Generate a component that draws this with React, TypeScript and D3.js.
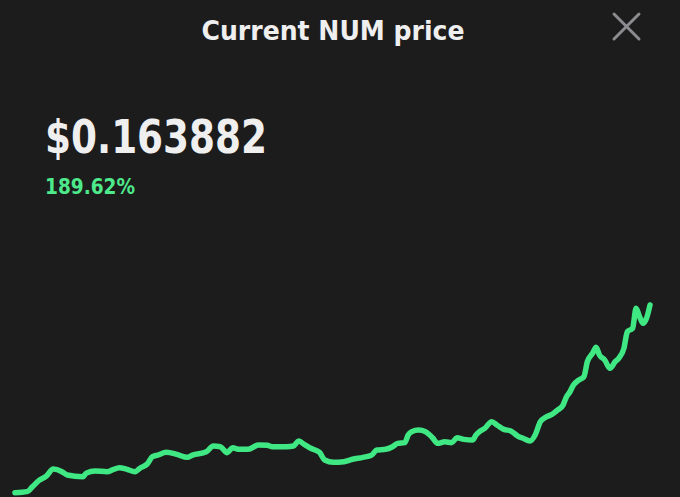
import React from 'react';
import * as d3 from 'd3';

// day index over one year, price in USD
const days = [0, 7, 10, 14, 18, 22, 27, 30, 39, 41, 46, 53, 56, 60, 64, 69, 72, 76, 79, 82,
  87, 93, 99, 102, 110, 114, 118, 122, 125, 129, 134, 140, 145, 148, 156, 160, 163, 166, 170, 175,
  178, 183, 189, 194, 200, 205, 208, 213, 217, 220, 224, 226, 228, 232, 236, 239, 240, 243, 247, 251,
  254, 258, 263, 265, 267, 270, 274, 277, 281, 285, 289, 292, 296, 299, 302, 305, 309, 312, 315, 317,
  319, 321, 324, 327, 329, 332, 334, 336, 339, 342, 345, 347, 350, 352, 355, 357, 359, 361, 363, 365];

const prices = [0.0566, 0.0572, 0.0600, 0.0638, 0.0661, 0.0701, 0.0686, 0.0667, 0.0657, 0.0678,
  0.0690, 0.0686, 0.0696, 0.0709, 0.0701, 0.0686, 0.0707, 0.0730, 0.0772, 0.0781,
  0.0797, 0.0785, 0.0768, 0.0781, 0.0800, 0.0833, 0.0829, 0.0795, 0.0823, 0.0814,
  0.0814, 0.0839, 0.0837, 0.0829, 0.0829, 0.0833, 0.0861, 0.0844, 0.0820, 0.0797,
  0.0753, 0.0740, 0.0743, 0.0757, 0.0768, 0.0781, 0.0810, 0.0814, 0.0829, 0.0848,
  0.0852, 0.0896, 0.0915, 0.0924, 0.0915, 0.0890, 0.0880, 0.0848, 0.0857, 0.0852,
  0.0880, 0.0871, 0.0867, 0.0896, 0.0915, 0.0934, 0.0972, 0.0953, 0.0928, 0.0919,
  0.0890, 0.0877, 0.0862, 0.0896, 0.0972, 0.0997, 0.1016, 0.1039, 0.1067, 0.1115,
  0.1143, 0.1182, 0.1210, 0.1229, 0.1315, 0.1363, 0.1397, 0.1353, 0.1324, 0.1277,
  0.1315, 0.1334, 0.1391, 0.1486, 0.1506, 0.1620, 0.1572, 0.1534, 0.1563, 0.1639];

const title = 'Current NUM price';
const currentPrice = '$0.163882';
const change = '189.62%';

const W = 680;
const H = 497;

const App = () => {
  const data = days.map((d, i) => ({ d, v: prices[i] }));

  const x = d3.scaleLinear().domain([0, 365]).range([15, 650]);
  const y = d3.scaleLinear()
    .domain([d3.min(prices) as number, d3.max(prices) as number])
    .range([492.7, 305]);

  const line = d3.line<{ d: number; v: number }>()
    .x(p => x(p.d))
    .y(p => y(p.v))
    .curve(d3.curveMonotoneX);

  const font = '"DejaVu Sans Condensed", "DejaVu Sans", sans-serif';

  return (
    <div style={{ position: 'absolute', left: 0, top: 0, width: W, height: H }}>
      <svg width={W} height={H} style={{ display: 'block' }}>
        <rect width={W} height={H} fill="#1c1c1d" />
        <text x={333} y={40} textAnchor="middle" fill="#efefef" fontFamily={font}
          fontWeight={700} fontSize={27} textLength={263} lengthAdjust="spacingAndGlyphs">
          {title}
        </text>
        <g stroke="#8b8b90" strokeWidth={3} strokeLinecap="round">
          <line x1={614} y1={14} x2={639} y2={39} />
          <line x1={639} y1={14} x2={614} y2={39} />
        </g>
        <text x={45} y={153} fill="#efefef" fontFamily={font} fontWeight={700}
          fontSize={46} textLength={222} lengthAdjust="spacingAndGlyphs">
          {currentPrice}
        </text>
        <text x={45} y={194} fill="#4de98a" fontFamily={font} fontWeight={700}
          fontSize={22} textLength={90} lengthAdjust="spacingAndGlyphs">
          {change}
        </text>
        <path d={line(data) as string} fill="none" stroke="#3fe883" strokeWidth={5.5}
          strokeLinejoin="round" strokeLinecap="round" />
      </svg>
    </div>
  );
};

export default App;
